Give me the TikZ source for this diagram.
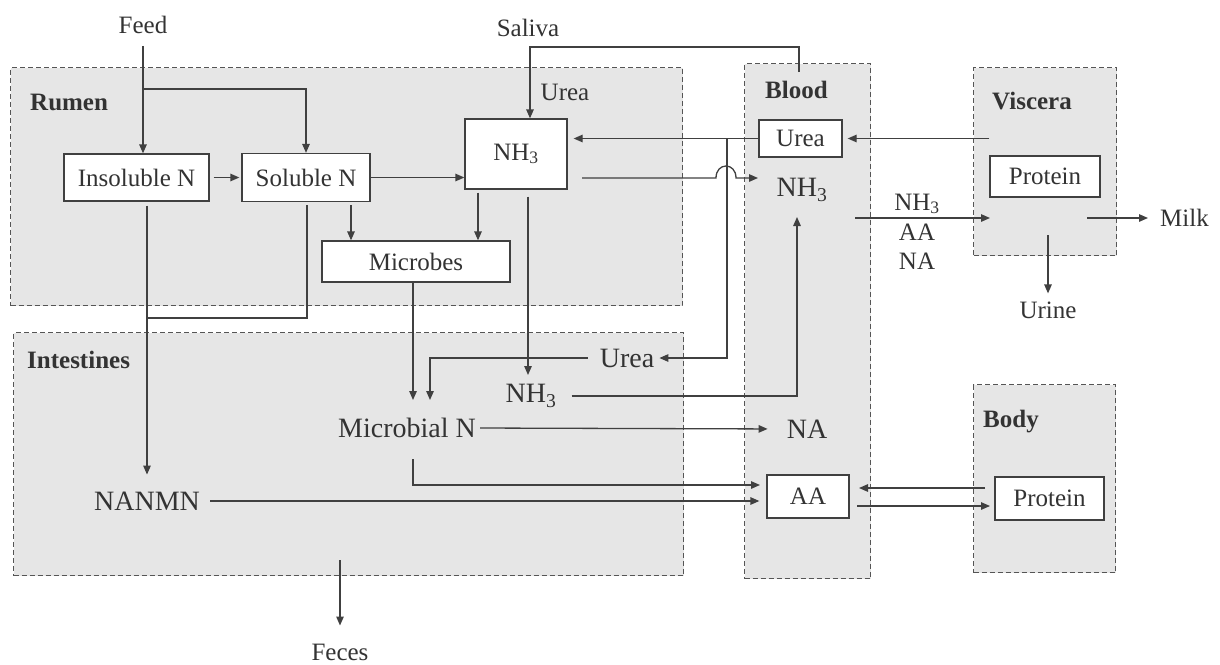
\documentclass[tikz,border=0pt]{standalone}
\usepackage{fontspec}
\setmainfont{Liberation Serif}
\usetikzlibrary{arrows.meta}
\newcommand\fsA{\fontsize{25}{30}\selectfont}
\newcommand\fsB{\fontsize{28}{33}\selectfont}
\definecolor{ink}{HTML}{333333}
\definecolor{lineC}{HTML}{404040}
\definecolor{regfill}{HTML}{E6E6E6}
\definecolor{regline}{HTML}{555555}
\tikzset{
  region/.style={draw=regline, fill=regfill, dash pattern=on 5pt off 3pt, line width=1pt, inner sep=0pt},
  box/.style={draw=lineC, fill=white, line width=1.3pt, inner sep=0pt, font=\fsA, text=ink},
  txtA/.style={inner sep=0pt, font=\fsA, text=ink},
  txtB/.style={inner sep=0pt, font=\fsB, text=ink},
  lbl/.style={inner sep=0pt, font=\fsA\bfseries, text=ink, anchor=west},
  arr/.style={-{Triangle[length=9pt,width=7.5pt]}, draw=lineC, line width=1.3pt},
  ln/.style={draw=lineC, line width=1.3pt}
}
\begin{document}
\begin{tikzpicture}[x=1pt,y=-1pt]
\useasboundingbox (0,0) rectangle (1220,664);
% regions
\node[region, minimum width=672pt, minimum height=238pt, anchor=north west] (rumen) at (10,67) {};
\node[region, minimum width=670pt, minimum height=243pt, anchor=north west] (intest) at (13,332) {};
\node[region, minimum width=126pt, minimum height=515pt, anchor=north west] (blood) at (744,63) {};
\node[region, minimum width=143pt, minimum height=188pt, anchor=north west] (viscera) at (973,67) {};
\node[region, minimum width=142pt, minimum height=188pt, anchor=north west] (body) at (973,384) {};
% region labels
\node[lbl] (rumenlbl) at (30,102) {Rumen};
\node[lbl] (intlbl) at (27,360) {Intestines};
\node[lbl] (bloodlbl) at (765,90) {Blood};
\node[lbl] (visclbl) at (992,101) {Viscera};
\node[lbl] (bodylbl) at (983,422) {Body};
% boxes
\node[box, minimum width=145pt, minimum height=47pt] (ins) at (136.5,177.5) {Insoluble N};
\node[box, minimum width=128pt, minimum height=48pt] (sol) at (306,177.5) {Soluble N};
\node[box, minimum width=102pt, minimum height=70pt] (nh3r) at (516,154) {NH\textsubscript{3}};
\node[box, minimum width=188pt, minimum height=41pt] (mic) at (416,261.5) {Microbes};
\node[box, minimum width=83pt, minimum height=37pt] (burea) at (800.5,138.5) {Urea};
\node[box, minimum width=110pt, minimum height=41pt] (vprot) at (1045,176.5) {Protein};
\node[box, minimum width=82pt, minimum height=43pt] (aa) at (808,496.5) {AA};
\node[box, minimum width=109pt, minimum height=43pt] (bprot) at (1049.5,498.5) {Protein};
% free texts
\node[txtA] (feed) at (143,25) {Feed};
\node[txtA] (saliva) at (528,28) {Saliva};
\node[txtA] (ruurea) at (565,92) {Urea};
\node[txtB] (bnh3) at (802,190) {NH\textsubscript{3}};
\node[txtA] (l1) at (917,204) {NH\textsubscript{3}};
\node[txtA] (l2) at (917,232) {AA};
\node[txtA] (l3) at (917,261) {NA};
\node[txtA, anchor=west] (milk) at (1160,218) {Milk};
\node[txtA] (urine) at (1048,310) {Urine};
\node[txtB] (iurea) at (627,358) {Urea};
\node[txtB] (inh3) at (531,396) {NH\textsubscript{3}};
\node[txtB] (micn) at (407,428) {Microbial N};
\node[txtB] (na) at (807,429) {NA};
\node[txtB] (nanmn) at (147,501) {NANMN};
\node[txtA] (feces) at (340,652) {Feces};
% helper coordinates
\coordinate (fb) at (143,89);
\coordinate (sv1) at (799,72);
\coordinate (sv2) at (799,47);
\coordinate (sv3) at (530,47);
\coordinate (j1) at (727,138.5);
\coordinate (h0) at (582,178);
\coordinate (h1) at (716,178);
\coordinate (h2) at (736,178);
\coordinate (h3) at (758,178);
\coordinate (bv1) at (855,218);
\coordinate (bv2) at (990,218);
\coordinate (vm) at (1087,218);
\coordinate (vu) at (1048,235);
\coordinate (uc) at (430,358);
\coordinate (ucd) at (430,400);
\coordinate (mcd) at (413,400);
\coordinate (in1) at (797,396);
\coordinate (in2) at (797,217);
\coordinate (ma0) at (413,459);
\coordinate (ma1) at (413,485);
\coordinate (ma2) at (760,485);
\coordinate (sj1) at (307,318);
\coordinate (sj2) at (147,318);
\coordinate (ba0) at (985,488);
\coordinate (ba1) at (859,488);
\coordinate (ab0) at (857,506);
\coordinate (ab1) at (990,506);
\coordinate (fc0) at (340,560);
% connectors
\draw[arr, shorten <=12pt] (feed.south) -- (feed.south |- ins.north);
\draw[arr] (fb) -| (sol.north);
\draw[arr, shorten <=4pt, shorten >=2pt] (ins.east) -- (sol.west);
\draw[arr] (sol.east) -- (sol.east -| nh3r.west);
\draw[arr, shorten <=3pt] ([xshift=45pt]sol.south) -- ([xshift=45pt]sol.south |- mic.north);
\draw[arr, shorten <=3pt] ([xshift=-38pt]nh3r.south) -- ([xshift=-38pt]nh3r.south |- mic.north);
\draw[arr] (sv1) -- (sv2) -- (sv3) -- (sv3 |- nh3r.north);
\draw[arr, shorten >=6pt] (burea.west) -- (burea.west -| nh3r.east);
\draw[arr, shorten >=5pt] (j1) |- (iurea.east);
\draw[arr] (h0) -- (h1) .. controls (716,162) and (736,162) .. (h2) -- (h3);
\draw[arr, shorten >=5pt] (vprot.west |- burea.east) -- (burea.east);
\draw[arr] (bv1) -- (bv2);
\draw[arr, shorten >=12pt] (vm) -- (milk.west);
\draw[arr, shorten >=8pt] (vu) -- (urine.north);
\draw[arr, shorten <=7pt] ([xshift=12pt]nh3r.south) -- ([xshift=12pt]nh3r.south |- 0,375);
\draw[arr, shorten <=12pt] (iurea.west) -- (uc) -- (ucd);
\draw[arr] ([xshift=-3pt]mic.south) -- (mcd);
\draw[arr, shorten <=15pt] (inh3.east) -- (in1) -- (in2);
\draw[arr, shorten <=4pt, shorten >=19pt] (micn.east) -- (na.west);
\draw[arr] (ma0) -- (ma1) -- (ma2);
\draw[arr, shorten <=10pt, shorten >=7pt] (nanmn.east) -- (nanmn.east -| aa.west);
\draw[arr, shorten <=4pt, shorten >=17pt] ([xshift=10.5pt]ins.south) -- ([xshift=10.5pt]ins.south |- nanmn.north);
\draw[ln, shorten <=3pt] ([xshift=1pt]sol.south) -- (sj1) -- (sj2);
\draw[arr] (ba0) -- (ba1);
\draw[arr] (ab0) -- (ab1);
\draw[arr, shorten >=18pt] (fc0) -- (feces.north);
\end{tikzpicture}
\end{document}
